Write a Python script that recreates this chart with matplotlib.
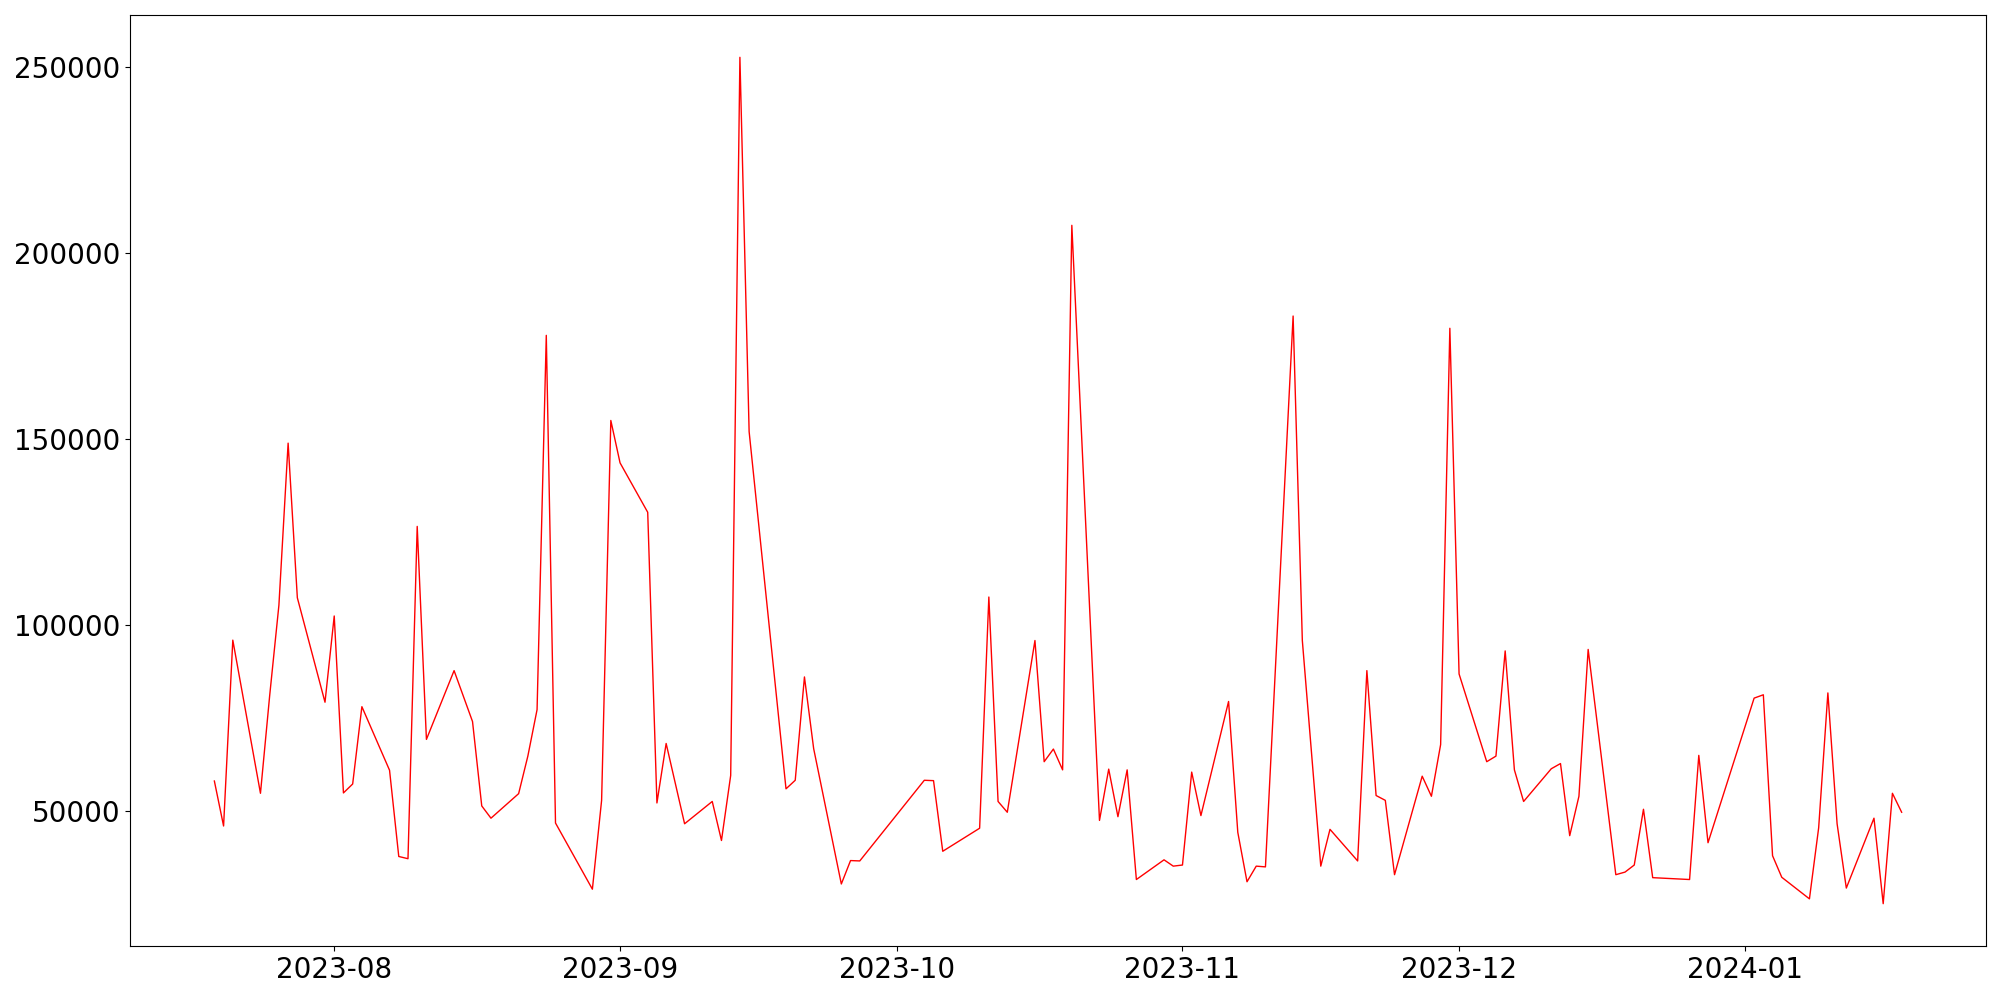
import matplotlib
matplotlib.use("Agg")
import matplotlib.pyplot as plt
import matplotlib.dates as mdates
import pandas as pd

dates = [
    "2023-07-19", "2023-07-20", "2023-07-21", "2023-07-24", "2023-07-25", "2023-07-26",
    "2023-07-27", "2023-07-28", "2023-07-31", "2023-08-01", "2023-08-02", "2023-08-03",
    "2023-08-04", "2023-08-07", "2023-08-08", "2023-08-09", "2023-08-10", "2023-08-11",
    "2023-08-14", "2023-08-16", "2023-08-17", "2023-08-18", "2023-08-21", "2023-08-22",
    "2023-08-23", "2023-08-24", "2023-08-25", "2023-08-29", "2023-08-30", "2023-08-31",
    "2023-09-01", "2023-09-04", "2023-09-05", "2023-09-06", "2023-09-08", "2023-09-11",
    "2023-09-12", "2023-09-13", "2023-09-14", "2023-09-15", "2023-09-19", "2023-09-20",
    "2023-09-21", "2023-09-22", "2023-09-25", "2023-09-26", "2023-09-27", "2023-10-04",
    "2023-10-05", "2023-10-06", "2023-10-10", "2023-10-11", "2023-10-12", "2023-10-13",
    "2023-10-16", "2023-10-17", "2023-10-18", "2023-10-19", "2023-10-20", "2023-10-23",
    "2023-10-24", "2023-10-25", "2023-10-26", "2023-10-27", "2023-10-30", "2023-10-31",
    "2023-11-01", "2023-11-02", "2023-11-03", "2023-11-06", "2023-11-07", "2023-11-08",
    "2023-11-09", "2023-11-10", "2023-11-13", "2023-11-14", "2023-11-16", "2023-11-17",
    "2023-11-20", "2023-11-21", "2023-11-22", "2023-11-23", "2023-11-24", "2023-11-27",
    "2023-11-28", "2023-11-29", "2023-11-30", "2023-12-01", "2023-12-04", "2023-12-05",
    "2023-12-06", "2023-12-07", "2023-12-08", "2023-12-11", "2023-12-12", "2023-12-13",
    "2023-12-14", "2023-12-15", "2023-12-18", "2023-12-19", "2023-12-20", "2023-12-21",
    "2023-12-22", "2023-12-26", "2023-12-27", "2023-12-28", "2024-01-02", "2024-01-03",
    "2024-01-04", "2024-01-05", "2024-01-08", "2024-01-09", "2024-01-10", "2024-01-11",
    "2024-01-12", "2024-01-15", "2024-01-16", "2024-01-17", "2024-01-18",
]

values = [
    58000, 45900, 95900, 54700, 81000, 105300,
    148900, 107300, 79200, 102400, 54800, 57200,
    78000, 60900, 37700, 37100, 126500, 69200,
    87700, 74000, 51300, 48000, 54600, 64700,
    77200, 177900, 46700, 28900, 52800, 155000,
    143600, 130300, 52100, 68100, 46500, 52500,
    42000, 59500, 252700, 152000, 55900, 58200,
    86000, 66700, 30300, 36600, 36500, 58200,
    58100, 39100, 45300, 107500, 52500, 49600,
    95800, 63200, 66600, 61000, 207500, 47400,
    61200, 48400, 61000, 31500, 36800, 35100,
    35400, 60400, 48700, 79400, 44200, 30900,
    35100, 34900, 183100, 95800, 35100, 45000,
    36500, 87700, 54100, 52800, 32800, 59300,
    53900, 67800, 179800, 86800, 63200, 64700,
    93000, 61000, 52500, 61300, 62700, 43300,
    53900, 93400, 32800, 33500, 35400, 50400,
    32000, 31500, 64900, 41400, 80300, 81200,
    37900, 32100, 26300, 45400, 81700, 46500,
    29200, 48000, 25000, 54700, 49600,
]

x = pd.to_datetime(dates)

fig, ax = plt.subplots(figsize=(20, 10), dpi=100)
fig.subplots_adjust(left=0.065, right=0.993, top=0.985, bottom=0.054)

ax.plot(x, values, color="red", linewidth=1.0)

ax.xaxis.set_major_locator(mdates.MonthLocator())
ax.xaxis.set_major_formatter(mdates.DateFormatter("%Y-%m"))
ax.set_yticks([50000, 100000, 150000, 200000, 250000])
ax.tick_params(axis="both", labelsize=20)

fig.savefig("out.png", dpi=100)
